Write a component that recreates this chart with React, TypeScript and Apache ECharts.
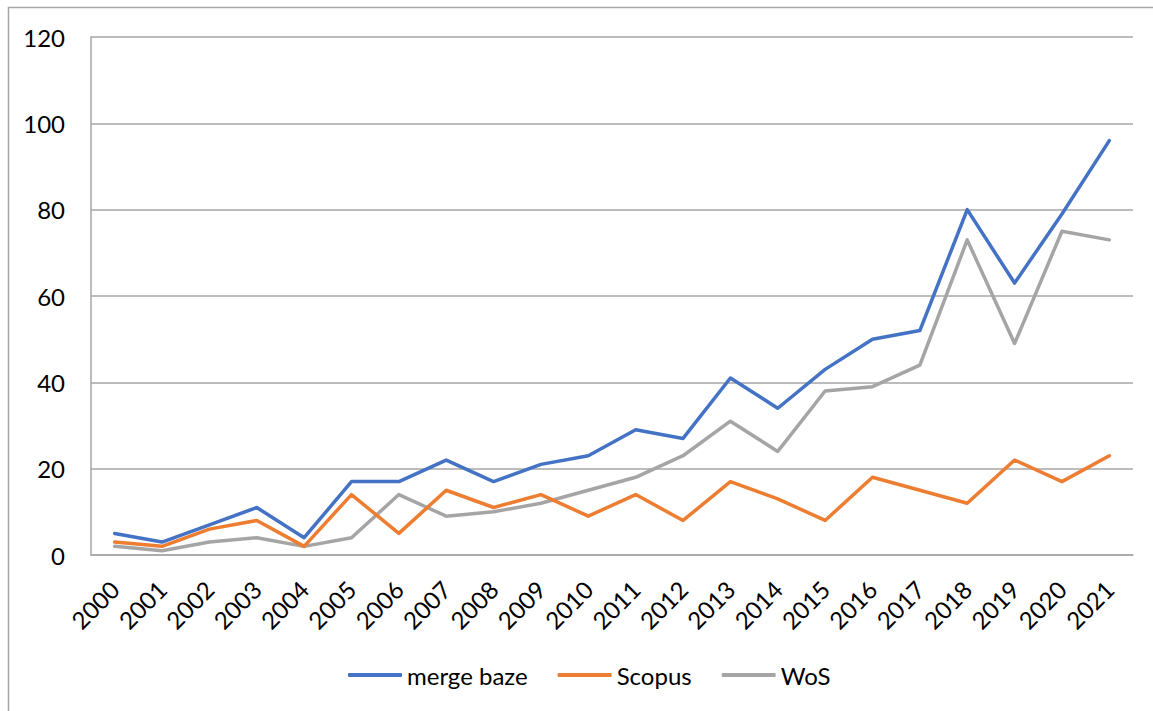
import React, { useEffect, useRef } from "react";
import * as echarts from "echarts";

const years = [
  "2000", "2001", "2002", "2003", "2004", "2005", "2006", "2007", "2008", "2009", "2010",
  "2011", "2012", "2013", "2014", "2015", "2016", "2017", "2018", "2019", "2020", "2021",
];
const mergeBaze = [5, 3, 7, 11, 4, 17, 17, 22, 17, 21, 23, 29, 27, 41, 34, 43, 50, 52, 80, 63, 79, 96];
const scopus = [3, 2, 6, 8, 2, 14, 5, 15, 11, 14, 9, 14, 8, 17, 13, 8, 18, 15, 12, 22, 17, 23];
const wos = [2, 1, 3, 4, 2, 4, 14, 9, 10, 12, 15, 18, 23, 31, 24, 38, 39, 44, 73, 49, 75, 73];
const seriesNames = ["merge baze", "Scopus", "WoS"];
const seriesColors = ["#4472C4", "#ED7D31", "#A5A5A5"];

const FONT = "Lato, 'Liberation Sans', sans-serif";
const GRID = "#A6A6A6";

export default function App() {
  const ref = useRef<HTMLDivElement>(null);
  useEffect(() => {
    if (!ref.current) return;
    const chart = echarts.init(ref.current, undefined, { renderer: "svg" });
    const data = [mergeBaze, scopus, wos];
    chart.setOption({
      animation: false,
      backgroundColor: "#ffffff",
      textStyle: { fontFamily: FONT },
      graphic: [
        {
          type: "rect",
          z: -1,
          shape: { x: 8.5, y: 7.5, width: 1300, height: 900 },
          style: { fill: "none", stroke: GRID, lineWidth: 1.5 },
          silent: true,
        },
      ],
      grid: { left: 91, right: 20, top: 37, bottom: 156, containLabel: false },
      legend: {
        left: 343,
        top: 658,
        icon: "roundRect",
        itemWidth: 54,
        itemHeight: 4,
        itemGap: 30,
        textStyle: { fontFamily: FONT, fontSize: 24, color: "#000" },
        data: seriesNames,
      },
      xAxis: {
        type: "category",
        boundaryGap: true,
        data: years,
        axisLine: { show: true, lineStyle: { color: GRID, width: 1.5 } },
        axisTick: { show: false },
        axisLabel: {
          rotate: 45,
          margin: 30,
          fontSize: 24,
          color: "#000",
          fontFamily: FONT,
          interval: 0,
        },
        splitLine: { show: false },
      },
      yAxis: {
        type: "value",
        min: 0,
        max: 120,
        interval: 20,
        axisLine: { show: true, lineStyle: { color: GRID, width: 1.5 } },
        axisTick: { show: false },
        axisLabel: { margin: 26, fontSize: 24, color: "#000", fontFamily: FONT },
        splitLine: { show: true, lineStyle: { color: GRID, width: 1.5 } },
      },
      series: seriesNames.map((name, i) => ({
        name,
        type: "line",
        data: data[i],
        symbol: "none",
        color: seriesColors[i],
        lineStyle: { color: seriesColors[i], width: 3.5, join: "round", cap: "round" },
        z: 10 - i,
      })),
    });
    return () => chart.dispose();
  }, []);
  return (
    <div
      ref={ref}
      style={{ position: "fixed", left: 0, top: 0, width: 1153, height: 711 }}
    />
  );
}
